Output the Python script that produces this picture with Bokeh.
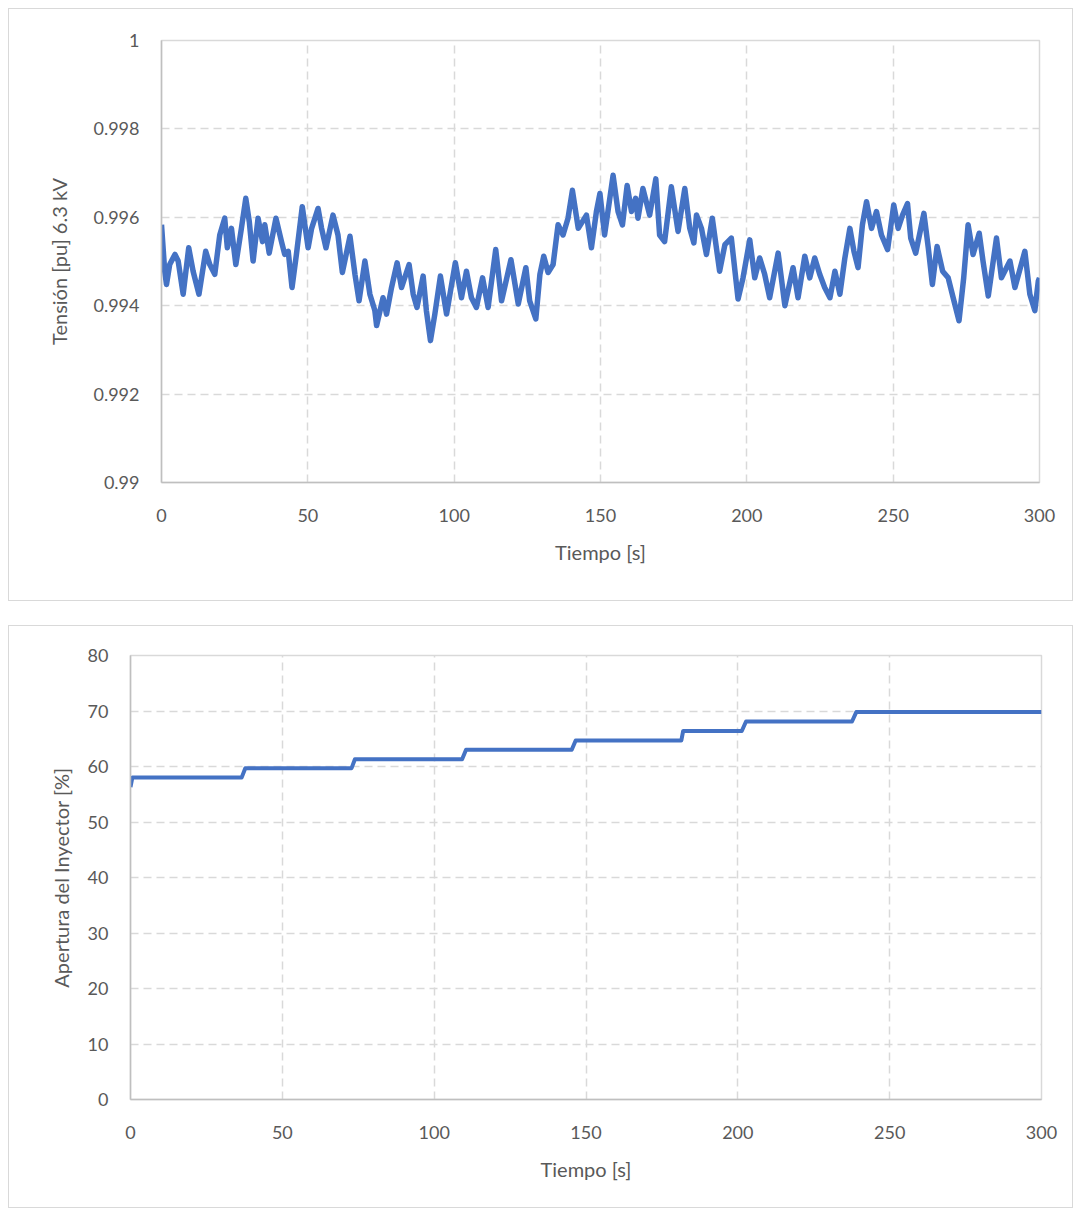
from bokeh.plotting import figure
from bokeh.models import FixedTicker, CustomJSTickFormatter, Range1d
from bokeh.embed import file_html
from bokeh.resources import INLINE

# ---------------- data ----------------
tension_t = [0.0, 1.1, 1.7, 2.8, 4.6, 5.7, 7.4, 9.3, 10.8, 12.8, 15.1, 16.5, 18.2, 19.9, 21.6, 22.5,
             23.9, 25.4, 27.3, 28.8, 30.0, 31.3, 33.0, 34.5, 35.3, 36.8, 39.1, 41.0, 42.1, 43.3, 44.6,
             46.1, 48.1, 50.1, 51.3, 53.5, 54.7, 56.2, 58.6, 60.3, 61.8, 64.4, 66.1, 67.5, 69.5, 71.2,
             72.9, 73.5, 75.7, 76.9, 78.6, 80.5, 82.0, 84.6, 86.0, 87.3, 89.4, 90.5, 91.9, 93.4, 95.3,
             97.4, 100.4, 102.5, 104.2, 105.9, 107.6, 109.7, 111.6, 114.2, 116.2, 119.4, 121.9, 124.5,
             125.8, 127.9, 129.3, 130.6, 132.1, 133.8, 135.5, 137.2, 138.9, 140.4, 142.4, 145.2, 146.9,
             148.6, 149.8, 151.4, 154.3, 156.0, 157.5, 159.1, 160.6, 162.0, 162.8, 164.5, 166.8, 168.9,
             170.2, 171.9, 174.2, 176.5, 178.8, 180.5, 181.9, 182.8, 184.5, 186.2, 188.2, 190.7, 192.5,
             194.7, 197.0, 198.7, 201.0, 202.7, 204.4, 206.1, 207.8, 210.7, 213.0, 215.8, 217.5, 219.8,
             221.5, 223.2, 224.9, 226.6, 228.4, 230.1, 231.8, 233.5, 235.2, 236.6, 238.0, 239.5, 240.9,
             242.6, 244.3, 246.0, 248.1, 250.2, 251.7, 253.2, 254.9, 256.0, 257.7, 260.5, 262.0, 263.4,
             265.0, 266.9, 268.8, 270.5, 272.5, 274.1, 275.6, 277.3, 279.4, 280.7, 282.5, 285.3, 287.0,
             289.9, 291.6, 295.0, 296.7, 298.4, 299.6, 300.0]
tension_v = [0.99583, 0.99478, 0.99448, 0.99493, 0.99516, 0.99501, 0.99426, 0.99531, 0.99478, 0.99426,
             0.99523, 0.99493, 0.99471, 0.99560, 0.99598, 0.99531, 0.99575, 0.99493, 0.99575, 0.99643,
             0.99590, 0.99501, 0.99598, 0.99545, 0.99583, 0.99519, 0.99598, 0.99545, 0.99516, 0.99523,
             0.99441, 0.99516, 0.99624, 0.99531, 0.99575, 0.99620, 0.99575, 0.99531, 0.99605, 0.99560,
             0.99475, 0.99557, 0.99471, 0.99411, 0.99501, 0.99426, 0.99389, 0.99355, 0.99418, 0.99381,
             0.99441, 0.99497, 0.99441, 0.99493, 0.99426, 0.99396, 0.99467, 0.99389, 0.99321, 0.99381,
             0.99467, 0.99381, 0.99497, 0.99418, 0.99478, 0.99418, 0.99396, 0.99463, 0.99396, 0.99527,
             0.99411, 0.99504, 0.99404, 0.99486, 0.99411, 0.99370, 0.99471, 0.99512, 0.99475, 0.99493,
             0.99583, 0.99560, 0.99598, 0.99661, 0.99575, 0.99605, 0.99531, 0.99613, 0.99654, 0.99560,
             0.99695, 0.99613, 0.99583, 0.99672, 0.99613, 0.99643, 0.99598, 0.99665, 0.99605, 0.99687,
             0.99560, 0.99545, 0.99669, 0.99568, 0.99665, 0.99575, 0.99542, 0.99605, 0.99575, 0.99516,
             0.99598, 0.99478, 0.99538, 0.99553, 0.99415, 0.99463, 0.99549, 0.99463, 0.99508, 0.99471,
             0.99418, 0.99519, 0.99400, 0.99486, 0.99418, 0.99512, 0.99463, 0.99508, 0.99471, 0.99441,
             0.99418, 0.99478, 0.99426, 0.99508, 0.99575, 0.99523, 0.99486, 0.99583, 0.99635, 0.99575,
             0.99613, 0.99560, 0.99527, 0.99628, 0.99575, 0.99605, 0.99631, 0.99553, 0.99519, 0.99609,
             0.99531, 0.99448, 0.99534, 0.99478, 0.99463, 0.99418, 0.99366, 0.99463, 0.99583, 0.99516,
             0.99564, 0.99501, 0.99422, 0.99553, 0.99463, 0.99501, 0.99441, 0.99523, 0.99426, 0.99389,
             0.99456, 0.99463]

apertura_t = [0, 0.6, 36.6, 37.8, 72.8, 73.9, 109.2, 110.5, 145.3, 146.6, 181.4, 182.0,
              201.3, 202.7, 237.6, 239.0, 300]
apertura_v = [56.3, 58.0, 58.0, 59.7, 59.7, 61.3, 61.3, 63.0, 63.0, 64.7, 64.7, 66.4,
              66.4, 68.1, 68.1, 69.8, 69.8]

x_ticks = [0, 50, 100, 150, 200, 250, 300]
tension_ticks = [0.99, 0.992, 0.994, 0.996, 0.998, 1.0]
apertura_ticks = [0, 10, 20, 30, 40, 50, 60, 70, 80]

BLUE = "#4472C4"
GRID = "#d9d9d9"
TXT = "#595959"
FONT = "Lato"


def style(p, xlabel, ylabel, ylab_standoff):
    p.xaxis.axis_label = xlabel
    p.yaxis.axis_label = ylabel
    for ax in (p.xaxis[0], p.yaxis[0]):
        ax.major_tick_line_color = None
        ax.minor_tick_line_color = None
        ax.axis_line_color = "#bfbfbf"
        ax.axis_line_width = 1.5
        ax.major_label_text_font = FONT
        ax.major_label_text_font_size = "18px"
        ax.major_label_text_color = TXT
        ax.axis_label_text_font = FONT
        ax.axis_label_text_font_size = "20px"
        ax.axis_label_text_font_style = "normal"
        ax.axis_label_text_color = TXT
    p.xaxis[0].major_label_standoff = 20
    p.yaxis[0].major_label_standoff = 16
    p.xaxis[0].axis_label_standoff = 15
    p.yaxis[0].axis_label_standoff = ylab_standoff
    for g in (p.xgrid[0], p.ygrid[0]):
        g.grid_line_color = GRID
        g.grid_line_dash = "8 5"
        g.grid_line_width = 1.5
    p.outline_line_color = GRID
    p.outline_line_width = 1.5
    p.background_fill_color = "white"
    p.border_fill_color = "white"


p1 = figure(width=1065, height=593, output_backend="svg", toolbar_location=None,
            x_range=Range1d(0, 300), y_range=Range1d(0.99, 1.0),
            min_border_left=152, min_border_right=35, min_border_top=31, min_border_bottom=120,
            margin=(8, 0, 0, 8),
            styles={"border": "1px solid #d9d9d9"})
p1.line(tension_t, tension_v, line_color=BLUE, line_width=5.5, line_join="round")
p1.xaxis.ticker = FixedTicker(ticks=x_ticks)
p1.yaxis.ticker = FixedTicker(ticks=tension_ticks)
p1.yaxis.formatter = CustomJSTickFormatter(code="return (Math.round(tick*1000)/1000).toString();")
style(p1, "Tiempo [s]", "Tensión [pu] 6.3 kV", 19)

p2 = figure(width=1065, height=583, output_backend="svg", toolbar_location=None,
            x_range=Range1d(0, 300), y_range=Range1d(0, 80),
            min_border_left=121, min_border_right=33, min_border_top=29, min_border_bottom=110,
            margin=(24, 0, 0, 8),
            styles={"border": "1px solid #d9d9d9"})
p2.line(apertura_t, apertura_v, line_color=BLUE, line_width=4, line_join="round")
p2.xaxis.ticker = FixedTicker(ticks=x_ticks)
p2.yaxis.ticker = FixedTicker(ticks=apertura_ticks)
style(p2, "Tiempo [s]", "Apertura del Inyector [%]", 12)

open("out.html", "w").write(file_html([p1, p2], INLINE))
